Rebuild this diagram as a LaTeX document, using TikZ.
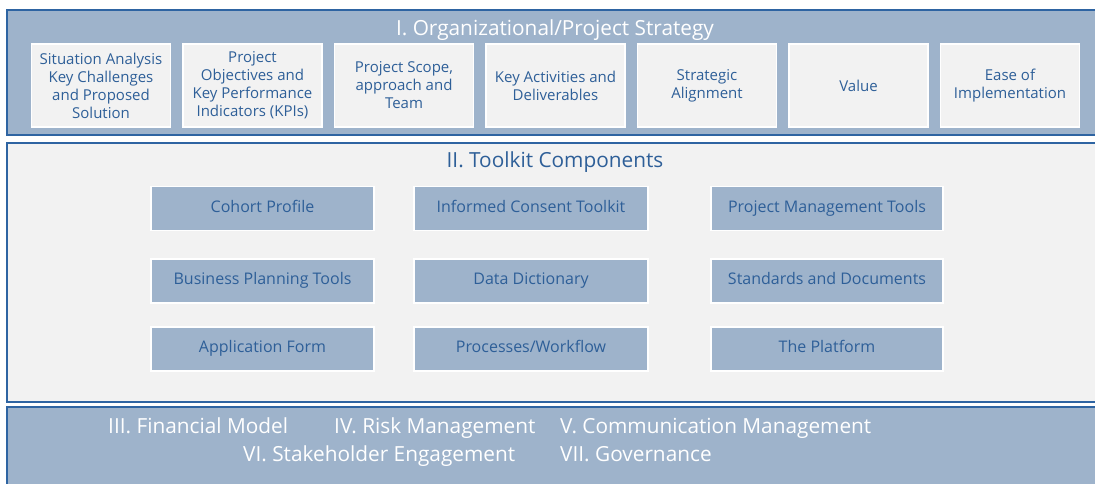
\documentclass[tikz,border=0pt]{standalone}
\usepackage{fontspec}
\setmainfont{Open Sans}
\definecolor{bandfill}{HTML}{9EB3CB}
\definecolor{bandline}{HTML}{2E64A2}
\definecolor{lightfill}{HTML}{F2F2F2}
\definecolor{txtblue}{HTML}{2E5F98}
\tikzset{
  band/.style={draw=bandline, line width=1.8pt},
  topbox/.style={draw=white, line width=1.2pt, fill=lightfill, minimum width=139pt, minimum height=83pt, inner sep=0pt, align=center, text=txtblue, font=\fontsize{15}{18}\selectfont},
  gridbox/.style={draw=white, line width=1.2pt, fill=bandfill, minimum height=44pt, inner sep=0pt, text height=11.5pt, text depth=4pt, align=center, text=txtblue, font=\fontsize{16}{18}\selectfont},
  bigtitle/.style={inner sep=0pt, anchor=base, font=\fontsize{20.8}{24}\selectfont},
  bottomtxt/.style={inner sep=0pt, anchor=base west, text=white, font=\fontsize{20.8}{24}\selectfont},
}
\begin{document}
\begin{tikzpicture}[x=1pt,y=-1pt]
\useasboundingbox (0,0) rectangle (1095,483);
\begin{scope}
\clip (0,0) rectangle (1095,483);
% bands
\draw[band, fill=bandfill] (7,10) rectangle (1110,135);
\draw[band, fill=lightfill] (7,143) rectangle (1110,402);
\draw[band, fill=bandfill] (7,407) rectangle (1110,500);
\end{scope}
% top section
\node[bigtitle, text=white] (t0) at (555,35.5) {I. Organizational/Project Strategy};
\node[topbox] (t1) at (101,85.5) {Situation Analysis\\Key Challenges\\and Proposed\\Solution};
\node[topbox] (t2) at (252.5,85.5) {Project\\Objectives and\\Key Performance\\Indicators (KPIs)};
\node[topbox] (t3) at (404,85.5) {Project Scope,\\approach and\\Team};
\node[topbox] (t4) at (555.5,85.5) {Key Activities and\\Deliverables};
\node[topbox] (t5) at (707,85.5) {Strategic\\Alignment};
\node[topbox] (t6) at (858.5,85.5) {Value};
\node[topbox] (t7) at (1010,85.5) {Ease of\\Implementation};
% middle section
\node[bigtitle, text=txtblue] (m0) at (555,167) {II. Toolkit Components};
\node[gridbox, minimum width=223pt] (g11) at (262.5,208.5) {Cohort Profile};
\node[gridbox, minimum width=234pt] (g12) at (531,208.5) {Informed Consent Toolkit};
\node[gridbox, minimum width=232pt] (g13) at (827,208.5) {Project Management Tools};
\node[gridbox, minimum width=223pt] (g21) at (262.5,281) {Business Planning Tools};
\node[gridbox, minimum width=234pt] (g22) at (531,281) {Data Dictionary};
\node[gridbox, minimum width=232pt] (g23) at (827,281) {Standards and Documents};
\node[gridbox, minimum width=223pt] (g31) at (262.5,349) {Application Form};
\node[gridbox, minimum width=234pt] (g32) at (531,349) {Processes/Workflow};
\node[gridbox, minimum width=232pt] (g33) at (827,349) {The Platform};
% bottom section
\node[bottomtxt] (b1) at (108,433) {III. Financial Model};
\node[bottomtxt] (b2) at (334,433) {IV. Risk Management};
\node[bottomtxt] (b3) at (560,433) {V. Communication Management};
\node[bottomtxt] (b4) at (243,461.5) {VI. Stakeholder Engagement};
\node[bottomtxt] (b5) at (560,461.5) {VII. Governance};
\end{tikzpicture}
\end{document}
